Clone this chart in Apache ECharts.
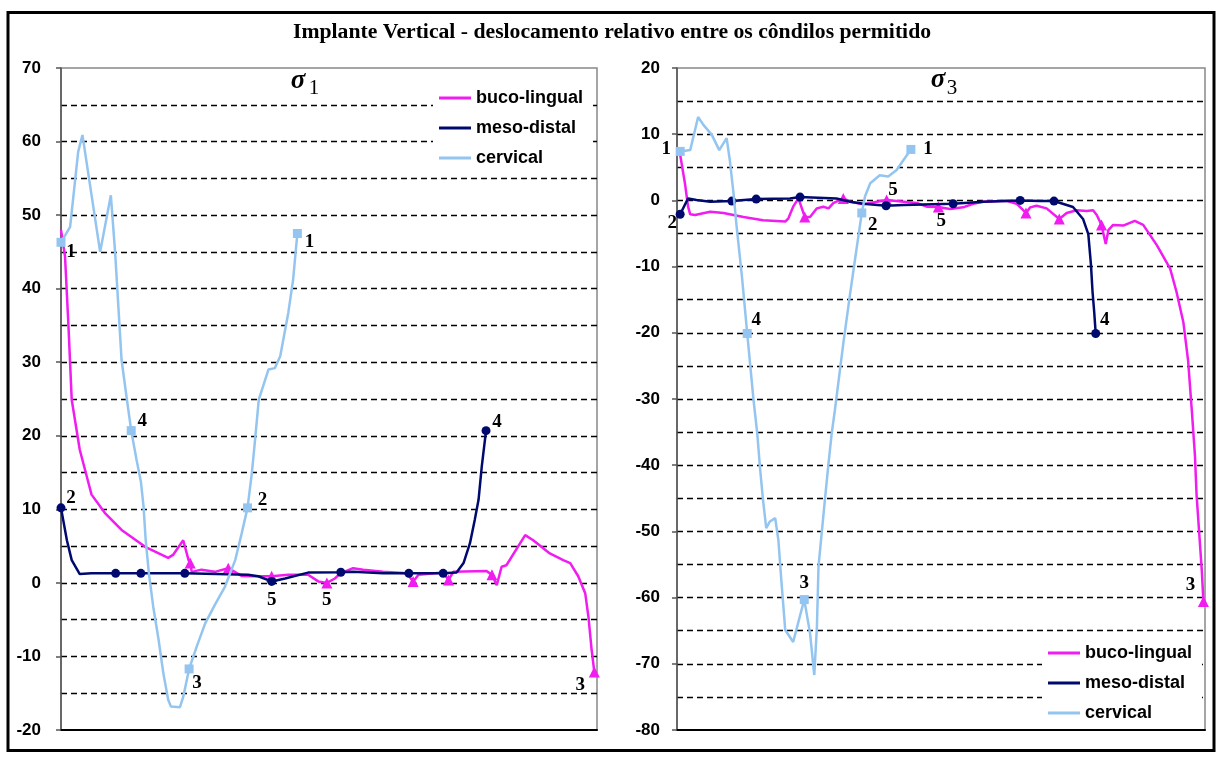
<!DOCTYPE html>
<html>
<head>
<meta charset="utf-8">
<title>Implante Vertical</title>
<script src="https://cdn.jsdelivr.net/npm/echarts@6/dist/echarts.min.js"></script>
<style>
  html, body { margin: 0; padding: 0; background: #fff; }
  #chart { width: 1222px; height: 761px; }
</style>
</head>
<body>
<div id="chart"></div>
<script>
// Relative stress along the load path (passo 0..100) for each direction.
// Each point is [passo, valor].

// ---- σ1 panel ----
const s1Buco = [
  [0, 48.0], [0.75, 44.4], [1.4, 34.8], [2.0, 24.9], [3.5, 18.1], [4.8, 14.5], [5.7, 12.0],
  [8.2, 9.5], [11.3, 7.2], [15.7, 4.9], [20.0, 3.4], [20.9, 3.8], [22.8, 5.8], [23.8, 3.1],
  [24.1, 2.7], [24.4, 1.5], [26.2, 1.8], [28.7, 1.5], [31.2, 2.0], [33.7, 0.95], [36.2, 0.9],
  [39.3, 0.9], [42.4, 1.1], [46.1, 1.1], [48.0, 0.2], [49.6, 0.0], [51.1, 0.6], [52.1, 1.3],
  [54.5, 2.0], [56.4, 1.8], [60.1, 1.5], [64.5, 1.3], [65.7, 0.2], [66.7, 1.1], [71.3, 1.4],
  [72.3, 0.4], [73.2, 1.5], [79.4, 1.6], [80.4, 1.1], [81.3, -0.3], [82.2, 2.2], [83.1, 2.4],
  [86.6, 6.5], [88.1, 5.8], [91.2, 4.0], [93.7, 3.1], [95.0, 2.7], [96.5, 0.9], [97.8, -1.4],
  [98.4, -4.6], [99.0, -9.1], [99.5, -12.1]
];
const s1BucoMarks = [[24.1, ''], [31.2, ''], [39.3, ''], [49.6, '5'], [65.7, ''], [72.3, ''], [80.4, ''], [99.5, '3']];

const s1Meso = [
  [0, 10.2], [1.1, 5.8], [2.0, 3.1], [3.5, 1.2], [5.7, 1.3], [10.2, 1.3], [14.9, 1.3],
  [23.1, 1.3], [34.9, 1.1], [36.8, 0.9], [39.3, 0.2], [41.8, 0.6], [46.1, 1.4], [52.2, 1.45],
  [54.5, 1.5], [60.1, 1.3], [64.9, 1.3], [71.3, 1.3], [73.8, 1.4], [75.1, 2.7], [76.3, 5.4],
  [77.2, 8.6], [77.9, 11.3], [78.5, 15.8], [79.3, 20.7]
];
const s1MesoMarks = [[0, '2'], [10.2, ''], [14.9, ''], [23.1, ''], [39.3, '5'], [52.2, ''], [64.9, ''], [71.3, ''], [79.3, '4']];

const s1Cerv = [
  [0, 46.3], [1.7, 48.4], [3.2, 58.6], [4.0, 60.9], [7.3, 45.0], [9.3, 52.7], [10.1, 44.9],
  [11.3, 30.3], [12.3, 24.9], [13.1, 20.7], [14.1, 16.7], [14.9, 13.8], [15.4, 10.4],
  [15.8, 5.8], [16.4, 1.3], [17.2, -3.2], [18.2, -7.7], [19.1, -12.3], [20.0, -15.9],
  [20.5, -16.8], [22.2, -16.9], [22.8, -15.5], [23.9, -11.7], [25.3, -8.7], [26.9, -5.5],
  [28.7, -3.0], [30.6, -0.5], [32.5, 3.1], [33.7, 6.7], [34.8, 10.2], [35.6, 14.9],
  [36.2, 19.4], [36.9, 24.9], [38.7, 29.0], [39.9, 29.2], [40.9, 30.8], [42.4, 36.7],
  [43.3, 41.2], [44.1, 47.5]
];
const s1CervMarks = [[0, '1'], [13.1, '4'], [23.9, '3'], [34.8, '2'], [44.1, '1']];

// ---- σ3 panel ----
const s3Buco = [
  [0.6, 6.9], [1.5, 2.6], [2.1, -0.95], [2.5, -2.1], [3.4, -2.2], [6.3, -1.7], [8.8, -1.9],
  [12.6, -2.5], [16.3, -3.0], [20.5, -3.2], [21.1, -2.7], [22.0, -0.95], [23.0, 0.3],
  [24.2, -2.5], [25.2, -2.5], [26.5, -1.2], [27.7, -0.95], [28.7, -1.2], [29.6, -0.4],
  [31.5, 0.3], [32.8, -0.2], [35.3, -0.6], [36.6, -0.4], [39.7, 0.06], [42.9, -0.2],
  [45.4, -0.4], [47.3, -0.95], [49.5, -1.0], [51.7, -1.3], [54.2, -1.05], [56.1, -0.5],
  [58.0, -0.2], [62.4, -0.07], [64.3, -0.5], [66.1, -1.9], [66.9, -1.05], [68.1, -0.8],
  [70.0, -1.2], [72.4, -2.8], [73.8, -1.9], [75.7, -1.5], [77.6, -1.6], [78.8, -1.5],
  [79.5, -2.2], [80.4, -3.7], [81.2, -6.6], [81.7, -4.5], [82.6, -3.7], [84.5, -3.8],
  [86.7, -3.1], [88.3, -3.7], [90.9, -6.8], [93.4, -10.3], [94.6, -13.8], [95.9, -18.4],
  [96.8, -24.2], [97.5, -31.7], [98.1, -38.6], [98.4, -44.4], [98.9, -50.2], [99.4, -56.0],
  [99.7, -60.6]
];
const s3BucoMarks = [[24.2, ''], [31.5, ''], [39.7, ''], [49.5, '5'], [66.1, ''], [72.4, ''], [80.4, ''], [99.7, '3']];

const s3Meso = [
  [0.6, -2.1], [2.1, 0.3], [3.7, 0.06], [6.3, -0.2], [10.4, -0.1], [15.0, 0.2], [21.4, 0.3],
  [23.3, 0.5], [30.2, 0.3], [32.8, -0.2], [35.3, -0.5], [39.6, -0.8], [42.9, -0.7],
  [52.3, -0.5], [58.0, -0.2], [65.0, 0.0], [68.8, -0.1], [71.4, -0.1], [75.0, -1.0],
  [76.9, -2.8], [77.9, -5.1], [78.4, -9.7], [78.7, -13.8], [79.0, -16.7], [79.3, -20.1]
];
const s3MesoMarks = [[0.6, '2'], [10.4, ''], [15.0, ''], [23.3, ''], [39.6, '5'], [52.3, ''], [65.0, ''], [71.4, ''], [79.3, '4']];

const s3Cerv = [
  [0.6, 7.4], [2.5, 7.6], [4.0, 12.6], [5.0, 11.4], [6.6, 9.9], [8.0, 7.6], [9.4, 9.4],
  [10.0, 6.1], [10.7, 1.1], [11.3, -4.0], [12.3, -11.5], [13.3, -20.1], [14.5, -30.2],
  [15.2, -35.2], [15.7, -40.2], [16.3, -45.3], [16.9, -49.5], [17.6, -48.5], [18.6, -48.0],
  [19.2, -51.3], [19.8, -57.8], [20.5, -64.9], [22.0, -66.7], [24.1, -60.3], [25.2, -65.4],
  [26.0, -71.7], [26.5, -64.4], [26.8, -55.3], [27.4, -50.3], [28.0, -45.3], [28.7, -39.7],
  [29.3, -35.2], [29.9, -31.7], [31.5, -21.6], [32.8, -14.0], [33.7, -9.0], [34.7, -3.5],
  [35.0, -1.9], [35.6, 0.6], [36.6, 2.6], [38.4, 3.8], [40.0, 3.6], [41.6, 4.6], [42.9, 6.1],
  [44.3, 7.7]
];
const s3CervMarks = [[0.6, '1'], [13.3, '4'], [24.1, '3'], [35.0, '2'], [44.3, '1']];

const seriesNames = ['buco-lingual', 'meso-distal', 'cervical'];
const s1Ticks = { min: -20, max: 70, step: 10 };
const s3Ticks = { min: -80, max: 20, step: 10 };

// ---- styling ----
const STYLE = {
  'buco-lingual': { color: '#f01cf0', symbol: 'triangle', size: 11 },
  'meso-distal': { color: '#000a6e', symbol: 'circle', size: 9 },
  'cervical': { color: '#93c5f0', symbol: 'rect', size: 9 }
};

// placement of the numbered point tags, [dx, dy] from the marker centre
const TAG_OFFSET = {
  'σ1|cervical|0': [10, 10], 'σ1|cervical|13.1': [11, -10], 'σ1|cervical|23.9': [8, 14],
  'σ1|cervical|34.8': [15, -8], 'σ1|cervical|44.1': [12, 9],
  'σ1|meso-distal|0': [10, -10], 'σ1|meso-distal|39.3': [0, 19], 'σ1|meso-distal|79.3': [11, -9],
  'σ1|buco-lingual|49.6': [0, 17], 'σ1|buco-lingual|99.5': [-14, 13],
  'σ3|cervical|0.6': [-14, -2], 'σ3|cervical|13.3': [9, -13], 'σ3|cervical|24.1': [0, -16],
  'σ3|cervical|35': [11, 12], 'σ3|cervical|44.3': [17, 0],
  'σ3|meso-distal|0.6': [-8, 9], 'σ3|meso-distal|39.6': [7, -16], 'σ3|meso-distal|79.3': [9, -13],
  'σ3|buco-lingual|49.5': [3, 14], 'σ3|buco-lingual|99.7': [-13, -16]
};

function lineSeries(panel, name, axisIndex, points, marks) {
  const st = STYLE[name];
  const tags = new Map(marks.map(m => [m[0], m[1]]));
  const data = points.map(([x, y]) => {
    if (!tags.has(x)) return [x, y];
    const tag = tags.get(x);
    const item = { value: [x, y], symbol: st.symbol, symbolSize: st.size };
    if (tag) {
      item.label = {
        show: true, formatter: tag, position: 'inside',
        offset: TAG_OFFSET[panel + '|' + name + '|' + x] || [0, 0],
        fontFamily: 'Liberation Serif', fontWeight: 'bold', fontSize: 19, color: '#000'
      };
    }
    return item;
  });
  return {
    name, type: 'line', xAxisIndex: axisIndex, yAxisIndex: axisIndex,
    data, symbol: 'none', showSymbol: true, smooth: false,
    lineStyle: { color: st.color, width: 2.5 },
    itemStyle: { color: st.color },
    emphasis: { disabled: true },
    z: 2 + seriesNames.indexOf(name)
  };
}

function yAxis(gridIndex, ticks, margin) {
  return {
    type: 'value', gridIndex, min: ticks.min, max: ticks.max, interval: ticks.step,
    axisLine: { show: true, lineStyle: { color: '#555', width: 1.5 } },
    axisTick: { show: true, length: 5, lineStyle: { color: '#555', width: 1.5 } },
    axisLabel: { margin, color: '#000', fontFamily: 'Liberation Sans', fontWeight: 'bold', fontSize: 17 },
    splitLine: { show: true, showMinLine: false, showMaxLine: false,
      lineStyle: { color: '#000', type: [6, 4], width: 1.3 } },
    minorTick: { show: false, splitNumber: 2 },
    minorSplitLine: { show: true, lineStyle: { color: '#000', type: [6, 4], width: 1.3 } }
  };
}

function xAxis(gridIndex) {
  return {
    type: 'value', gridIndex, min: 0, max: 100,
    axisLine: { show: true, onZero: false, lineStyle: { color: '#000', width: 2 } },
    axisTick: { show: false }, axisLabel: { show: false }, splitLine: { show: false }
  };
}

function legendAt(left, top) {
  return {
    data: seriesNames, orient: 'vertical', left, top,
    icon: 'rect', itemWidth: 32, itemHeight: 3, itemGap: 12,
    padding: [6, 10, 6, 6], backgroundColor: '#fff', selectedMode: false, z: 10,
    textStyle: { fontFamily: 'Liberation Sans', fontWeight: 'bold', fontSize: 18, color: '#000' }
  };
}

const chart = echarts.init(document.getElementById('chart'), null, { renderer: 'canvas' });
chart.setOption({
  animation: false,
  backgroundColor: '#fff',
  grid: [
    { left: 61, top: 68, width: 536, height: 662, show: true, borderColor: '#888', borderWidth: 1.5 },
    { left: 677, top: 68, width: 528, height: 662, show: true, borderColor: '#888', borderWidth: 1.5 }
  ],
  xAxis: [xAxis(0), xAxis(1)],
  yAxis: [yAxis(0, s1Ticks, 20), yAxis(1, s3Ticks, 17)],
  legend: [legendAt(433, 83), legendAt(1042, 638)],
  series: [
    lineSeries('σ1', 'buco-lingual', 0, s1Buco, s1BucoMarks),
    lineSeries('σ1', 'meso-distal', 0, s1Meso, s1MesoMarks),
    lineSeries('σ1', 'cervical', 0, s1Cerv, s1CervMarks),
    lineSeries('σ3', 'buco-lingual', 1, s3Buco, s3BucoMarks),
    lineSeries('σ3', 'meso-distal', 1, s3Meso, s3MesoMarks),
    lineSeries('σ3', 'cervical', 1, s3Cerv, s3CervMarks)
  ],
  graphic: [
    { type: 'rect', shape: { x: 8, y: 12.5, width: 1206, height: 738 },
      style: { fill: 'none', stroke: '#000', lineWidth: 3 }, silent: true, z: 20 },
    { type: 'text', x: 612, y: 32.5, silent: true,
      style: { text: 'Implante Vertical - deslocamento relativo entre os côndilos permitido',
        fontFamily: 'Liberation Serif', fontWeight: 'bold', fontSize: 21.7, fill: '#000',
        align: 'center', verticalAlign: 'middle' } },
    { type: 'text', x: 298, y: 81, silent: true,
      style: { text: 'σ', fontFamily: 'Liberation Serif', fontStyle: 'italic', fontWeight: 'bold',
        fontSize: 27, fill: '#000', align: 'center', verticalAlign: 'middle' } },
    { type: 'text', x: 314, y: 88, silent: true,
      style: { text: '1', fontFamily: 'Liberation Serif', fontSize: 21, fill: '#000',
        align: 'center', verticalAlign: 'middle' } },
    { type: 'text', x: 938, y: 80, silent: true,
      style: { text: 'σ', fontFamily: 'Liberation Serif', fontStyle: 'italic', fontWeight: 'bold',
        fontSize: 27, fill: '#000', align: 'center', verticalAlign: 'middle' } },
    { type: 'text', x: 952, y: 88, silent: true,
      style: { text: '3', fontFamily: 'Liberation Serif', fontSize: 21, fill: '#000',
        align: 'center', verticalAlign: 'middle' } }
  ]
});
</script>
</body>
</html>
